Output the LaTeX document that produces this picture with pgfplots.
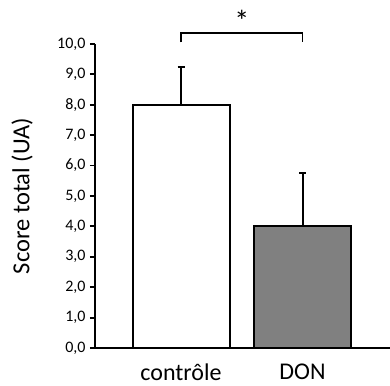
\documentclass[border=0pt]{standalone}
\usepackage{pgfplots}
\pgfplotsset{compat=1.18}
\usepackage{fontspec}
\setmainfont{Carlito}
\begin{document}
\begin{tikzpicture}
\begin{axis}[
  scale only axis,
  width=295pt, height=304pt,
  xmin=-0.708, xmax=1.72,
  ymin=0, ymax=10,
  axis x line*=bottom,
  axis y line*=left,
  axis line style={-, line width=2pt, black},
  ytick={0,1,...,10},
  tick align=outside,
  major tick length=5pt,
  ytick style={line width=1.8pt, black},
  xtick={0,1},
  xticklabels={contrôle, DON},
  xtick style={draw=none},
  /pgf/number format/.cd, fixed, zerofill, precision=1, use comma, assume math mode=true,
  /pgfplots/.cd,
  yticklabel style={font=\fontsize{16}{16}\selectfont, xshift=-1pt},
  xticklabel style={font=\fontsize{24}{24}\selectfont, yshift=-7pt},
  every axis y label/.style={at={(axis description cs:0,0.5)}, xshift=-73pt, rotate=90, anchor=center},
  ylabel={Score total (UA)},
  ylabel style={font=\fontsize{24.5}{24.5}\selectfont},
  ybar, bar width=97pt, bar shift=0pt,
  clip=false,
]
\addplot[fill=white, draw=black, line width=2pt, bar shift=0pt,
  error bars/.cd, y dir=plus, y explicit,
  error bar style={line width=2pt, black},
  error mark options={rotate=90, mark size=3.5pt, line width=2pt, black}]
  coordinates {(0,8.0) +- (0,1.25)};
\addplot[fill=black!50, draw=black, line width=2pt, bar shift=0pt,
  error bars/.cd, y dir=plus, y explicit,
  error bar style={line width=2pt, black},
  error mark options={rotate=90, mark size=3.5pt, line width=2pt, black}]
  coordinates {(1,4.0) +- (0,1.75)};
\draw[line width=1.8pt] (axis cs:0,10.05) -- (axis cs:0,10.35) -- (axis cs:1,10.35) -- (axis cs:1,10.05);
\node[font=\fontsize{30}{30}\selectfont, anchor=south, inner sep=0pt] at (axis cs:0.5,10.42) {*};
\end{axis}
\pgfresetboundingbox
\path[use as bounding box] (-95pt,-37pt) rectangle (295pt,348pt);
\end{tikzpicture}
\end{document}
